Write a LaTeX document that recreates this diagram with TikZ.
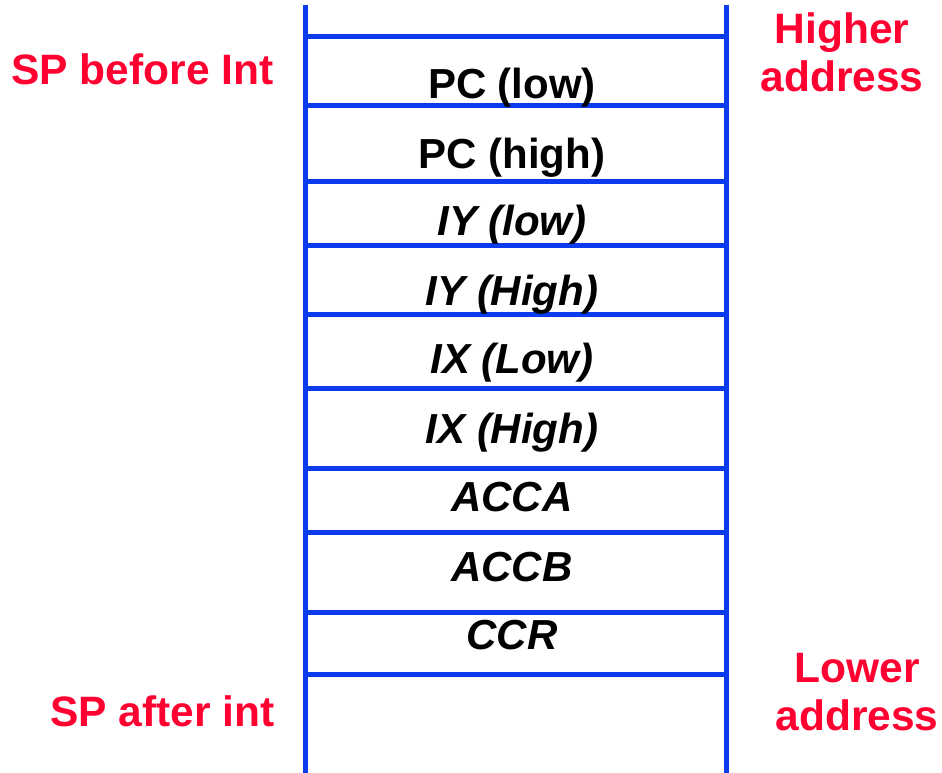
\documentclass[tikz,border=0pt]{standalone}
\usepackage{fontspec}
\setmainfont{Liberation Sans}
\definecolor{stackblue}{HTML}{0A3CEE}
\definecolor{notered}{HTML}{FF0030}
\tikzset{
  wall/.style={stackblue,line width=5pt},
  cell/.style={anchor=base,font=\fontsize{42}{48}\selectfont\bfseries},
  regcell/.style={cell,font=\fontsize{42}{48}\selectfont\bfseries\itshape},
  note/.style={text=notered,font=\fontsize{42.5}{48}\selectfont\bfseries,align=center}
}
\begin{document}
\begin{tikzpicture}[x=1pt,y=-1pt]
  \useasboundingbox (0,0) rectangle (942,773);
  % stack walls
  \draw[wall] (305,5) -- (305,773);
  \draw[wall] (726,5) -- (726,773);
  % slot borders
  \foreach \y in {37,106,181,245,314,388,468,532,612,674}
    \draw[wall] (305,\y) -- (726,\y);
  % stacked contents
  \node[cell] (pclow) at (512,99) {PC (low)};
  \node[cell] (pchigh) at (512,168) {PC (high)};
  \node[regcell] (iylow) at (512,235) {IY (low)};
  \node[regcell] (iyhigh) at (512,305) {IY (High)};
  \node[regcell] (ixlow) at (512,373) {IX (Low)};
  \node[regcell] (ixhigh) at (512,443) {IX (High)};
  \node[regcell] (acca) at (512,511) {ACCA};
  \node[regcell] (accb) at (512,581) {ACCB};
  \node[regcell] (ccr) at (512,649) {CCR};
  % side notes
  \node[note,anchor=base east] (spbefore) at (277,85) {SP before Int};
  \node[note,anchor=base east] (spafter) at (278,726) {SP after int};
  \node[note] (higher) at (842,52) {Higher\\address};
  \node[note] (lower) at (857,692) {Lower\\address};
\end{tikzpicture}
\end{document}
